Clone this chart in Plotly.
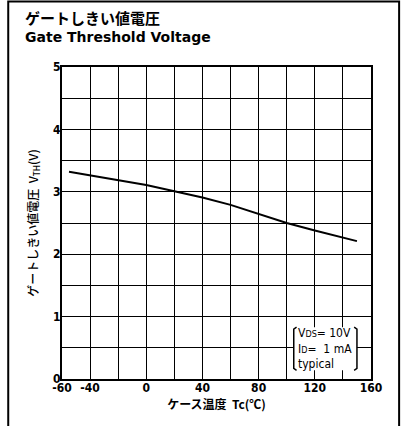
import plotly.graph_objects as go

# data
temp_c = [-55, -40, -20, 0, 20, 40, 60, 80, 100, 120, 140, 150]
vth_v = [3.32, 3.26, 3.18, 3.11, 3.01, 2.91, 2.79, 2.65, 2.50, 2.38, 2.27, 2.21]

x_grid = list(range(-60, 161, 20))
x_labels = ['-60', '-40', '', '0', '', '40', '', '80', '', '120', '', '160']
y_grid = [0, 0.5, 1, 1.5, 2, 2.5, 3, 3.5, 4, 4.5, 5]
y_labels = ['0', '', '1', '', '2', '', '3', '', '4', '', '5']

narrow = 'DejaVu Sans Condensed, Liberation Sans Narrow, sans-serif'
jp = 'Noto Sans CJK JP, sans-serif'

fig = go.Figure(
    data=go.Scatter(x=temp_c, y=vth_v, mode='lines',
                    line=dict(color='black', width=2), showlegend=False),
    layout=go.Layout(
        width=405,
        height=426,
        margin=dict(l=62, r=34, t=67, b=47),
        paper_bgcolor='white',
        plot_bgcolor='white',
        xaxis=dict(
            range=[-60, 160], tickvals=x_grid, ticktext=x_labels,
            showgrid=True, gridcolor='black', gridwidth=1.4,
            showline=True, linecolor='black', linewidth=2, mirror=True,
            zeroline=False, ticks='', ticklen=0, ticklabelstandoff=-3,
            tickfont=dict(family=narrow, size=12, color='black', weight='bold'),
            title=dict(text='ケース温度  Tc(℃)', standoff=2,
                       font=dict(family=jp, size=12, color='black', weight=700)),
        ),
        yaxis=dict(
            range=[0, 5], tickvals=y_grid, ticktext=y_labels,
            showgrid=True, gridcolor='black', gridwidth=1.4,
            showline=True, linecolor='black', linewidth=2, mirror=True,
            zeroline=False, ticks='', ticklen=0, ticklabelstandoff=-3,
            tickfont=dict(family=narrow, size=12, color='black', weight='bold'),
            title=dict(text='ゲートしきい値電圧  V<sub>TH</sub>(V)', standoff=12,
                       font=dict(family=jp, size=12, color='black', weight=500)),
        ),
    )
)

# title block
fig.add_annotation(xref='paper', yref='paper', x=-0.125, y=1.160, xanchor='left', yanchor='middle',
                   text='ゲートしきい値電圧', showarrow=False,
                   font=dict(family=jp, size=15, color='black', weight=700))
fig.add_annotation(xref='paper', yref='paper', x=-0.125, y=1.095, xanchor='left', yanchor='middle',
                   text='<b>Gate Threshold Voltage</b>', showarrow=False,
                   font=dict(family='DejaVu Sans, sans-serif', size=14, color='black'))

# condition box: white patch over the grid, brackets, then the text
fig.add_shape(type='rect', xref='x', yref='y', x0=105, x1=150, y0=0.14, y1=0.83,
              fillcolor='white', line=dict(width=0), layer='above')
fig.add_shape(type='path', xref='x', yref='y', path='M 107,0.83 L 105,0.80 L 105,0.17 L 107,0.14',
              line=dict(color='black', width=1.5), layer='above')
fig.add_shape(type='path', xref='x', yref='y', path='M 148,0.83 L 150,0.80 L 150,0.17 L 148,0.14',
              line=dict(color='black', width=1.5), layer='above')
fig.add_annotation(xref='x', yref='y', x=106.5, y=0.485, xanchor='left', yanchor='middle',
                   text='V<span style="font-size:9px">DS</span>= 10V<br>I<span style="font-size:9px">D</span>=  1 mA<br>typical',
                   align='left', showarrow=False,
                   font=dict(family=narrow, size=12, color='black'))

# outer frame
fig.add_shape(type='rect', xref='paper', yref='paper', x0=-0.174, x1=1.091, y0=-0.2, y1=1.21,
              line=dict(color='black', width=2), layer='below')

fig.write_html('out.html', config={'displayModeBar': False},
               post_script="document.body.style.margin='0px';")
